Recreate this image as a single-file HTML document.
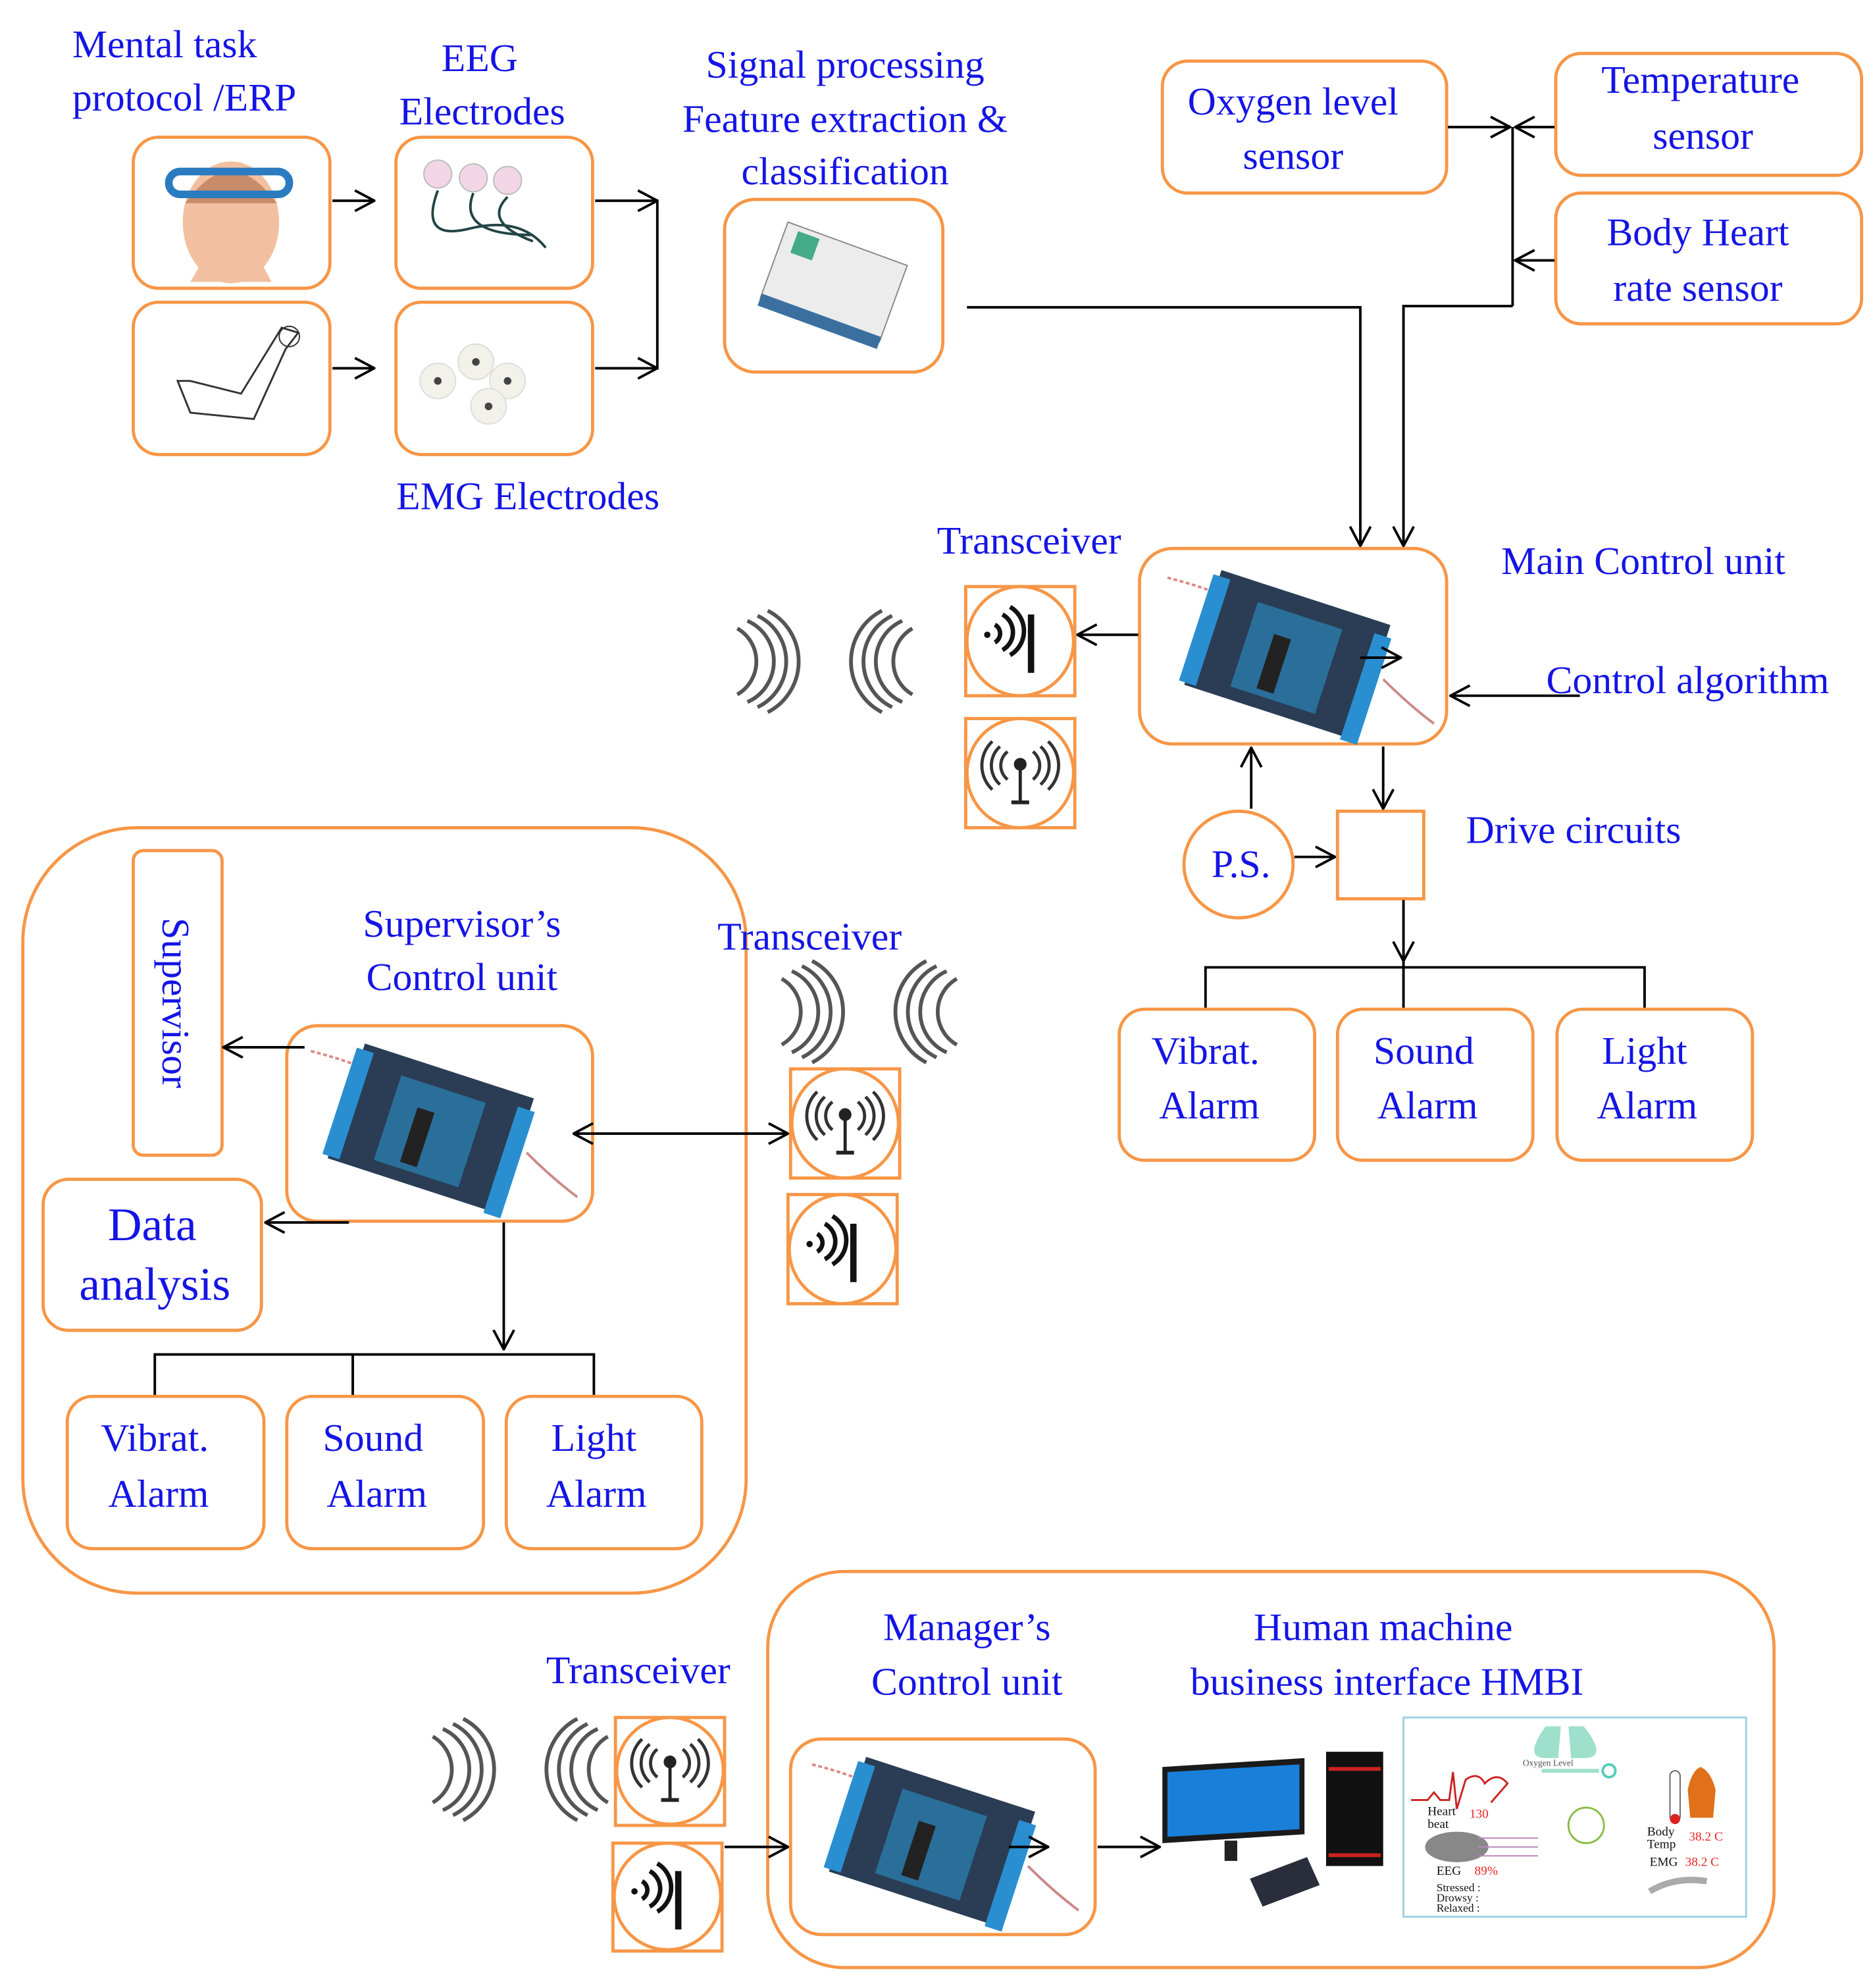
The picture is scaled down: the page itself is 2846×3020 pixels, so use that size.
<!DOCTYPE html>
<html><head><meta charset="utf-8"><style>
html,body{margin:0;padding:0;background:#fff}
svg{display:block}
text{font-family:"Liberation Serif",serif;fill:#1414e6;font-size:31px}
.o{fill:none;stroke:#f79646;stroke-width:2.5}
.l{fill:none;stroke:#000;stroke-width:2}
.w{fill:none;stroke:#555;stroke-width:3}
</style></head><body>
<svg width="2846" height="3020" viewBox="0 0 1476 1566" xmlns="http://www.w3.org/2000/svg">
<defs>
<marker id="a" viewBox="0 0 20 20" refX="19" refY="10" markerWidth="18" markerHeight="18" markerUnits="userSpaceOnUse" orient="auto-start-reverse">
<path d="M2 1 L19 10 L2 19" fill="none" stroke="#000" stroke-width="2.2"/></marker>
<g id="board">
<path d="M-100 -60 Q-60 -50 -20 -30" stroke="#d88" stroke-width="2" fill="none" stroke-dasharray="3 2"/>
<g transform="rotate(18)">
<rect x="-75" y="-45" width="140" height="95" fill="#2a3d55"/>
<rect x="-80" y="-40" width="14" height="88" fill="#2a8fd0"/>
<rect x="55" y="-35" width="14" height="88" fill="#2a8fd0"/>
<rect x="-40" y="-30" width="70" height="70" fill="#2a6f9a"/>
<rect x="-20" y="-10" width="14" height="45" fill="#222"/>
</g>
<path d="M70 20 Q90 40 110 55" stroke="#c88" stroke-width="2" fill="none"/>
</g>
<g id="ant1"><path d="M-18 -8 a8 8 0 0 1 0 14 M-12 -16 a16 16 0 0 1 0 28 M-6 -22 a22 22 0 0 1 0 38" stroke="#111" stroke-width="3.5" fill="none"/><rect x="8" y="-16" width="5" height="46" fill="#111"/><circle cx="-24" cy="0" r="2.5" fill="#111"/></g>
<g id="ant2"><circle cx="0" cy="-8" r="5" fill="#222"/><line x1="0" y1="-8" x2="0" y2="22" stroke="#222" stroke-width="2.5"/><line x1="-7" y1="22" x2="7" y2="22" stroke="#222" stroke-width="3"/><path d="M-10 -18 a14 14 0 0 0 0 22 M-16 -22 a20 20 0 0 0 0 30 M-22 -26 a26 26 0 0 0 0 38 M10 -18 a14 14 0 0 1 0 22 M16 -22 a20 20 0 0 1 0 30 M22 -26 a26 26 0 0 1 0 38" stroke="#333" stroke-width="2.5" fill="none"/></g>
<g id="waves"><path d="M0 -40 a45 45 0 0 1 0 80 M-8 -36 a40 40 0 0 1 0 72 M-16 -32 a35 35 0 0 1 0 64 M-24 -26 a30 30 0 0 1 0 52" class="w"/>
<path d="M90 -40 a45 45 0 0 0 0 80 M98 -36 a40 40 0 0 0 0 72 M106 -32 a35 35 0 0 0 0 64 M114 -26 a30 30 0 0 0 0 52" class="w"/></g>
</defs>

<!-- top-left -->
<text x="57" y="45">Mental task</text>
<text x="57" y="87">protocol /ERP</text>
<text x="378" y="56" text-anchor="middle">EEG</text>
<text x="380" y="98" text-anchor="middle">Electrodes</text>
<text x="416" y="401" text-anchor="middle">EMG Electrodes</text>
<text x="666" y="61" text-anchor="middle">Signal  processing</text>
<text x="666" y="104" text-anchor="middle">Feature extraction &amp;</text>
<text x="666" y="145" text-anchor="middle">classification</text>

<rect class="o" x="105" y="108" width="155" height="119" rx="20"/>
<rect class="o" x="105" y="238" width="155" height="120" rx="20"/>
<rect class="o" x="312" y="108" width="155" height="119" rx="20"/>
<rect class="o" x="312" y="238" width="155" height="120" rx="20"/>
<!-- head -->
<ellipse cx="182" cy="175" rx="38" ry="48" fill="#f2c0a0"/>
<path d="M146 160 Q182 110 218 160" fill="#c98c6a"/>
<rect x="133" y="135" width="95" height="18" rx="9" fill="none" stroke="#2a7bc0" stroke-width="6"/>
<path d="M150 222 L214 222 L205 205 L160 205Z" fill="#f2c0a0"/>
<!-- arm -->
<path d="M140 300 L150 325 L200 330 L225 275 L235 262 L222 258 L190 310 L150 300Z" fill="none" stroke="#333" stroke-width="1.5"/>
<circle cx="228" cy="265" r="8" fill="none" stroke="#333"/>
<!-- eeg electrodes -->
<circle cx="345" cy="137" r="11" fill="#f3d6e6" stroke="#bbb"/><circle cx="373" cy="140" r="11" fill="#f3d6e6" stroke="#bbb"/><circle cx="400" cy="142" r="11" fill="#f3d6e6" stroke="#bbb"/>
<path d="M345 150 Q330 190 370 180 Q410 170 430 195 M373 152 Q360 185 420 185 M400 155 Q380 175 420 190" stroke="#244" stroke-width="2" fill="none"/>
<!-- emg electrodes -->
<g fill="#f2f2ea" stroke="#ddd"><circle cx="345" cy="300" r="14"/><circle cx="375" cy="285" r="14"/><circle cx="400" cy="300" r="14"/><circle cx="385" cy="320" r="14"/></g>
<g fill="#444"><circle cx="345" cy="300" r="3"/><circle cx="375" cy="285" r="3"/><circle cx="400" cy="300" r="3"/><circle cx="385" cy="320" r="3"/></g>

<line class="l" x1="262" y1="158" x2="295" y2="158" marker-end="url(#a)"/>
<line class="l" x1="262" y1="290" x2="295" y2="290" marker-end="url(#a)"/>
<line class="l" x1="469" y1="158" x2="518" y2="158" marker-end="url(#a)"/>
<line class="l" x1="469" y1="290" x2="518" y2="290" marker-end="url(#a)"/>
<line class="l" x1="518" y1="157" x2="518" y2="291"/>

<rect class="o" x="571" y="157" width="172" height="136" rx="24"/>
<g transform="translate(657,222) rotate(20)"><rect x="-50" y="-32" width="100" height="64" fill="#ececec" stroke="#888"/><rect x="-50" y="28" width="100" height="10" fill="#3b6fa0"/><rect x="-40" y="-28" width="18" height="18" fill="#4a8"/></g>

<!-- sensors -->
<rect class="o" x="916" y="48" width="224" height="104" rx="20"/>
<text x="1019" y="90" text-anchor="middle">Oxygen level</text>
<text x="1019" y="133" text-anchor="middle">sensor</text>
<rect class="o" x="1226" y="42" width="241" height="96" rx="20"/>
<text x="1340" y="73" text-anchor="middle">Temperature</text>
<text x="1342" y="117" text-anchor="middle">sensor</text>
<rect class="o" x="1226" y="152" width="241" height="103" rx="20"/>
<text x="1338" y="193" text-anchor="middle">Body Heart</text>
<text x="1338" y="237" text-anchor="middle">rate sensor</text>
<line class="l" x1="1141" y1="100" x2="1190" y2="100" marker-end="url(#a)"/>
<line class="l" x1="1225" y1="100" x2="1194" y2="100" marker-end="url(#a)"/>
<line class="l" x1="1225" y1="205" x2="1194" y2="205" marker-end="url(#a)"/>
<line class="l" x1="1192" y1="100" x2="1192" y2="241"/>
<polyline class="l" points="1192,241 1106,241 1106,430" marker-end="url(#a)"/>
<polyline class="l" points="762,242 1072,242 1072,430" marker-end="url(#a)"/>

<!-- main control -->
<rect class="o" x="898" y="432" width="242" height="154" rx="26"/>
<use href="#board" transform="translate(1020,515)"/>
<line class="l" x1="1072" y1="518" x2="1104" y2="518" marker-end="url(#a)"/>
<text x="1295" y="452" text-anchor="middle">Main Control unit</text>
<text x="811" y="436" text-anchor="middle">Transceiver</text>
<text x="1330" y="546" text-anchor="middle">Control algorithm</text>
<line class="l" x1="1245" y1="548" x2="1143" y2="548" marker-end="url(#a)"/>
<line class="l" x1="897" y1="500" x2="849" y2="500" marker-end="url(#a)"/>
<rect class="o" x="761" y="462" width="86" height="86"/><ellipse class="o" cx="804" cy="505" rx="42" ry="43"/>
<use href="#ant1" transform="translate(802,500)"/>
<rect class="o" x="761" y="566" width="86" height="86"/><ellipse class="o" cx="804" cy="609" rx="42" ry="43"/>
<use href="#ant2" transform="translate(804,610)"/>
<use href="#waves" transform="translate(605,521)"/>

<ellipse class="o" cx="976" cy="681" rx="43" ry="42"/>
<text x="978" y="691" text-anchor="middle">P.S.</text>
<line class="l" x1="986" y1="637" x2="986" y2="589" marker-end="url(#a)"/>
<line class="l" x1="1090" y1="588" x2="1090" y2="637" marker-end="url(#a)"/>
<line class="l" x1="1020" y1="675" x2="1052" y2="675" marker-end="url(#a)"/>
<rect class="o" x="1054" y="639" width="68" height="69"/>
<text x="1240" y="664" text-anchor="middle">Drive circuits</text>
<line class="l" x1="1106" y1="709" x2="1106" y2="757" marker-end="url(#a)"/>
<polyline class="l" points="950,795 950,762 1296,762 1296,795"/>
<line class="l" x1="1106" y1="757" x2="1106" y2="795"/>
<rect class="o" x="882" y="795" width="154" height="119" rx="20"/>
<rect class="o" x="1054" y="795" width="154" height="119" rx="20"/>
<rect class="o" x="1227" y="795" width="154" height="119" rx="20"/>
<text x="950" y="838" text-anchor="middle">Vibrat.</text><text x="953" y="881" text-anchor="middle">Alarm</text>
<text x="1122" y="838" text-anchor="middle">Sound</text><text x="1125" y="881" text-anchor="middle">Alarm</text>
<text x="1296" y="838" text-anchor="middle">Light</text><text x="1298" y="881" text-anchor="middle">Alarm</text>

<!-- supervisor group -->
<rect class="o" x="18" y="652" width="570" height="603" rx="90"/>
<rect class="o" x="105" y="670" width="70" height="240" rx="8"/>
<text transform="translate(128,790) rotate(90)" text-anchor="middle">Supervisor</text>
<text x="364" y="738" text-anchor="middle">Supervisor’s</text>
<text x="364" y="780" text-anchor="middle">Control unit</text>
<rect class="o" x="226" y="808" width="241" height="154" rx="24"/>
<use href="#board" transform="translate(345,888)"/>
<line class="l" x1="240" y1="825" x2="176" y2="825" marker-end="url(#a)"/>
<line class="l" x1="275" y1="963" x2="209" y2="963" marker-end="url(#a)"/>
<rect class="o" x="34" y="929" width="172" height="119" rx="20"/>
<text x="120" y="977" text-anchor="middle" style="font-size:37px">Data</text>
<text x="122" y="1024" text-anchor="middle" style="font-size:37px">analysis</text>
<line class="l" x1="452" y1="893" x2="621" y2="893" marker-start="url(#a)" marker-end="url(#a)"/>
<text x="638" y="748" text-anchor="middle">Transceiver</text>
<use href="#waves" transform="translate(640,797)"/>
<rect class="o" x="623" y="842" width="86" height="86"/><ellipse class="o" cx="666" cy="885" rx="42" ry="43"/>
<use href="#ant2" transform="translate(666,886)"/>
<rect class="o" x="621" y="941" width="86" height="86"/><ellipse class="o" cx="664" cy="984" rx="42" ry="43"/>
<use href="#ant1" transform="translate(662,980)"/>
<line class="l" x1="397" y1="963" x2="397" y2="1063" marker-end="url(#a)"/>
<polyline class="l" points="122,1100 122,1067 468,1067 468,1100"/>
<line class="l" x1="278" y1="1067" x2="278" y2="1100"/>
<rect class="o" x="53" y="1100" width="155" height="120" rx="20"/>
<rect class="o" x="226" y="1100" width="155" height="120" rx="20"/>
<rect class="o" x="399" y="1100" width="154" height="120" rx="20"/>
<text x="122" y="1143" text-anchor="middle">Vibrat.</text><text x="125" y="1187" text-anchor="middle">Alarm</text>
<text x="294" y="1143" text-anchor="middle">Sound</text><text x="297" y="1187" text-anchor="middle">Alarm</text>
<text x="468" y="1143" text-anchor="middle">Light</text><text x="470" y="1187" text-anchor="middle">Alarm</text>

<!-- manager -->
<rect class="o" x="605" y="1238" width="793" height="312" rx="60"/>
<text x="762" y="1292" text-anchor="middle">Manager’s</text>
<text x="762" y="1335" text-anchor="middle">Control unit</text>
<text x="1090" y="1292" text-anchor="middle">Human machine</text>
<text x="1093" y="1335" text-anchor="middle">business interface HMBI</text>
<text x="503" y="1326" text-anchor="middle">Transceiver</text>
<use href="#waves" transform="translate(365,1394)"/>
<rect class="o" x="485" y="1353" width="86" height="85"/><ellipse class="o" cx="528" cy="1395" rx="42" ry="42"/>
<use href="#ant2" transform="translate(528,1396)"/>
<rect class="o" x="483" y="1452" width="86" height="85"/><ellipse class="o" cx="526" cy="1494" rx="42" ry="42"/>
<use href="#ant1" transform="translate(524,1490)"/>
<line class="l" x1="571" y1="1455" x2="621" y2="1455" marker-end="url(#a)"/>
<rect class="o" x="623" y="1370" width="240" height="154" rx="24"/>
<use href="#board" transform="translate(740,1450)"/>
<line class="l" x1="795" y1="1455" x2="826" y2="1455" marker-end="url(#a)"/>
<line class="l" x1="865" y1="1455" x2="914" y2="1455" marker-end="url(#a)"/>
<!-- computer -->
<path d="M916 1392 L1028 1385 L1028 1445 L916 1452Z" fill="#1a1a1a"/>
<path d="M920 1396 L1024 1390 L1024 1441 L920 1447Z" fill="#1a7fd8"/>
<rect x="965" y="1450" width="10" height="16" fill="#222"/>
<rect x="1045" y="1380" width="45" height="90" fill="#111"/>
<rect x="1047" y="1392" width="41" height="3" fill="#c22"/><rect x="1047" y="1460" width="41" height="3" fill="#c22"/>
<path d="M985 1480 L1030 1463 L1040 1485 L995 1502Z" fill="#2a2e3a"/>
<!-- HMBI screen -->
<rect x="1106" y="1353" width="270" height="157" fill="#fff" stroke="#9cd1e0" stroke-width="1.5"/>
<path d="M1218 1360 Q1200 1385 1218 1385 L1228 1385 L1230 1360Z M1248 1360 Q1268 1385 1248 1385 L1238 1385 L1236 1360Z" fill="#9ee0cc"/>
<text x="1200" y="1391" style="font-size:7px;fill:#555">Oxygen Level</text>
<line x1="1215" y1="1395" x2="1260" y2="1395" stroke="#9ee0cc" stroke-width="3"/>
<circle cx="1268" cy="1395" r="5" fill="none" stroke="#5cb" stroke-width="2"/>
<path d="M1112 1418 L1125 1418 L1130 1412 L1135 1418 L1142 1418 L1145 1396 L1148 1425 L1155 1402 Q1165 1395 1170 1405 Q1180 1395 1188 1405 L1175 1420" fill="none" stroke="#c22" stroke-width="1.5"/>
<text x="1125" y="1430" style="font-size:10px;fill:#111">Heart</text><text x="1125" y="1440" style="font-size:10px;fill:#111">beat</text>
<text x="1158" y="1432" style="font-size:10px;fill:#e22">130</text>
<ellipse cx="1148" cy="1455" rx="25" ry="12" fill="#888"/>
<path d="M1165 1448 L1212 1448 M1165 1455 L1212 1455 M1165 1462 L1212 1462" stroke="#b8b" stroke-width="1"/>
<circle cx="1250" cy="1438" r="14" fill="none" stroke="#8b4" stroke-width="1.5"/>
<text x="1132" y="1477" style="font-size:10px;fill:#111">EEG</text><text x="1162" y="1477" style="font-size:10px;fill:#e22">89%</text>
<text x="1132" y="1490" style="font-size:9px;fill:#111">Stressed :</text>
<text x="1132" y="1498" style="font-size:9px;fill:#111">Drowsy :</text>
<text x="1132" y="1506" style="font-size:9px;fill:#111">Relaxed :</text>
<rect x="1316" y="1395" width="8" height="40" rx="4" fill="#fff" stroke="#666"/><circle cx="1320" cy="1433" r="4" fill="#d22"/>
<path d="M1340 1392 Q1348 1395 1352 1410 L1350 1432 L1332 1432 L1330 1410 Q1333 1395 1340 1392Z" fill="#e0701a"/>
<text x="1298" y="1446" style="font-size:10px;fill:#111">Body</text><text x="1298" y="1456" style="font-size:10px;fill:#111">Temp</text>
<text x="1331" y="1450" style="font-size:10px;fill:#e22">38.2 C</text>
<text x="1300" y="1470" style="font-size:10px;fill:#111">EMG</text><text x="1328" y="1470" style="font-size:10px;fill:#e22">38.2 C</text>
<path d="M1300 1490 Q1320 1478 1345 1482" stroke="#aaa" stroke-width="5" fill="none"/>
</svg>
</body></html>
